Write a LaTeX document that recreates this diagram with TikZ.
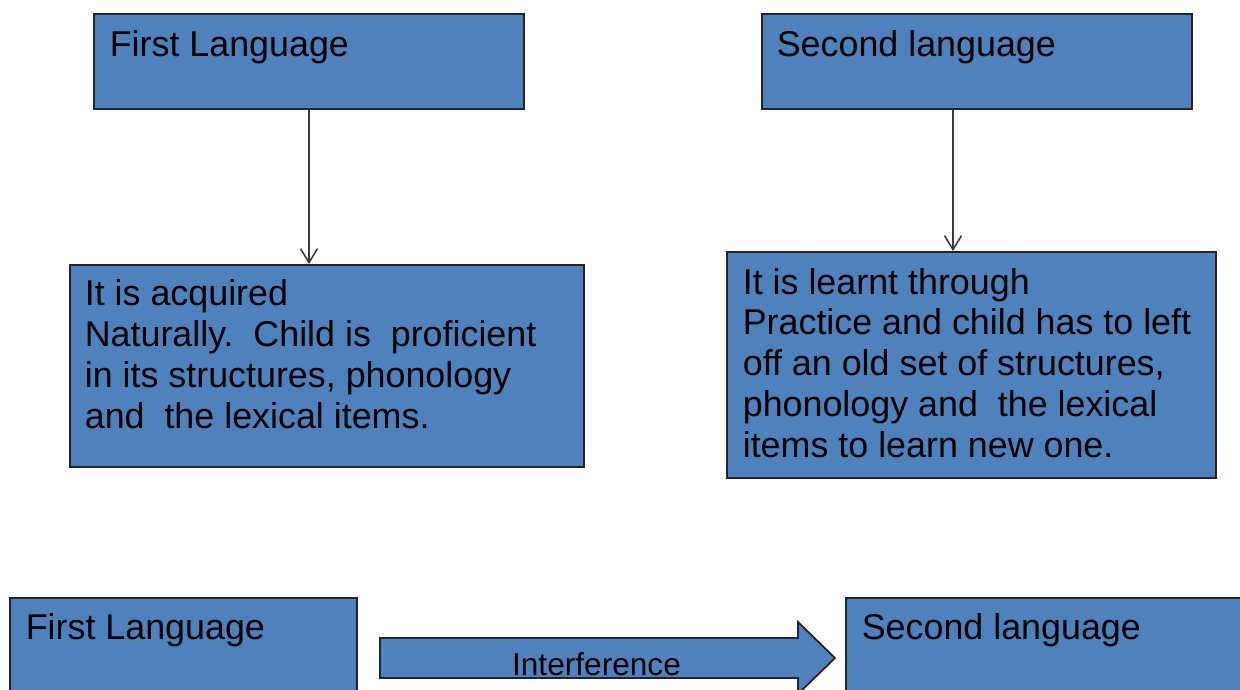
\documentclass[tikz,border=0pt]{standalone}
\usepackage{fontspec}
\setmainfont{Liberation Sans}
\usepackage{tikz}
\usetikzlibrary{arrows.meta,positioning}
\usepackage{xcolor}
\definecolor{boxblue}{RGB}{79,129,189}
\definecolor{boxline}{RGB}{35,35,40}
\definecolor{linkgray}{RGB}{60,60,60}
\tikzset{
  block/.style={rectangle, draw=boxline, line width=0.5pt, fill=boxblue, inner sep=0pt},
  blocktext/.style={anchor=base west, align=left, inner sep=0pt, text=black,
                    font=\fontsize{10.2pt}{11.6pt}\selectfont},
  arrow/.style={-{Straight Barb[length=1.4mm, width=1.7mm]}, linkgray, line width=0.45pt},
  bigarrow/.style={draw=boxline, line width=0.5pt, fill=boxblue, line join=miter},
}

\begin{document}
\begin{tikzpicture}
\useasboundingbox (0,0) rectangle (12.4,-6.89);
\clip (0,0) rectangle (12.4,-6.89);

% top row
\node[block, minimum width=4.30cm, minimum height=0.95cm] (fl1) at (3.09,-0.615) {};
\node[block, minimum width=4.30cm, minimum height=0.95cm] (sl1) at (9.77,-0.615) {};
\node[blocktext] (fl1t) at ([shift={(0.16,-0.43)}]fl1.north west) {First Language};
\node[blocktext] (sl1t) at ([shift={(0.15,-0.43)}]sl1.north west) {Second language};

% descriptions (base = last line)
\node[block, minimum width=5.14cm, minimum height=2.02cm] (acq) at (3.27,-3.66) {};
\node[block, minimum width=4.89cm, minimum height=2.26cm] (lrn) at (9.715,-3.65) {};
\node[blocktext] (acqt) at ([shift={(0.15,-1.64)}]acq.north west)
  {It is acquired\\Naturally.\ \ Child is\ \ proficient\\in its structures, phonology\\and\ \ the lexical items.};
\node[blocktext] (lrnt) at ([shift={(0.16,-2.06)}]lrn.north west)
  {It is learnt through\\Practice and child has to left\\off an old set of structures,\\phonology and\ \ the lexical\\items to learn new one.};

\draw[arrow] (fl1.south) -- (fl1.south |- acq.north);
\coordinate (slout) at ([xshift=-0.24cm]sl1.south);
\draw[arrow] (slout) -- (slout |- lrn.north);

% bottom row
\node[block, minimum width=3.47cm, minimum height=1.22cm] (fl2) at (1.835,-6.59) {};
\node[block, minimum width=4.14cm, minimum height=1.22cm] (sl2) at (10.53,-6.59) {};
\node[blocktext] (fl2t) at ([shift={(0.16,-0.42)}]fl2.north west) {First Language};
\node[blocktext] (sl2t) at ([shift={(0.16,-0.42)}]sl2.north west) {Second language};

\draw[bigarrow] (3.80,-6.38) -- (7.98,-6.38) -- (7.98,-6.22) -- (8.35,-6.58)
  -- (7.98,-6.94) -- (7.98,-6.78) -- (3.80,-6.78) -- cycle;
\node[blocktext, anchor=base, font=\fontsize{9pt}{10.8pt}\selectfont] (intf) at (5.965,-6.75) {Interference};
\end{tikzpicture}
\end{document}
